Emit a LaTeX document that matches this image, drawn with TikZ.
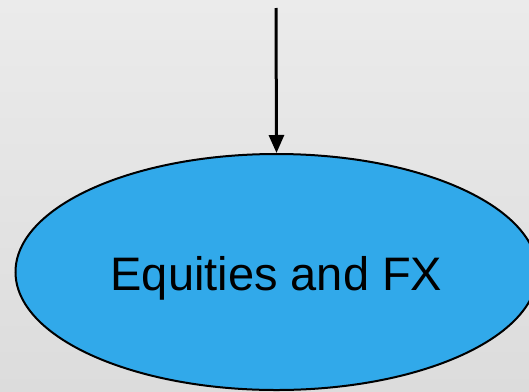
\documentclass[tikz,border=0pt]{standalone}
\usepackage{fontspec}
\setmainfont{Liberation Sans}
\usepackage{tikz}
\usetikzlibrary{arrows.meta, shapes.geometric}
\definecolor{bgtop}{HTML}{EBEBEB}
\definecolor{bgbottom}{HTML}{DCDCDC}
\definecolor{marketfill}{HTML}{31A9EA}
\tikzset{
  market/.style={
    ellipse,
    draw=black,
    line width=2pt,
    fill=marketfill,
    minimum width=522pt,
    minimum height=236pt,
    inner sep=0pt,
    font=\fontsize{47}{56}\selectfont
  },
  feed/.style={
    -{Triangle[length=18pt, width=15pt]},
    line width=3pt,
    color=black
  }
}
\begin{document}
\begin{tikzpicture}[x=1pt, y=-1pt]
  % Background
  \clip (0,0) rectangle (529,391);
  \shade[top color=bgtop, bottom color=bgbottom] (0,0) rectangle (529,391);

  % Market node
  \node[market] (fx) at (276.5,272) {\raisebox{-6pt}[\height][\depth]{Equities and FX}};

  % Incoming arrow
  \coordinate (src) at (276,8);
  \draw[feed] (src) -- (fx.north);
\end{tikzpicture}
\end{document}
